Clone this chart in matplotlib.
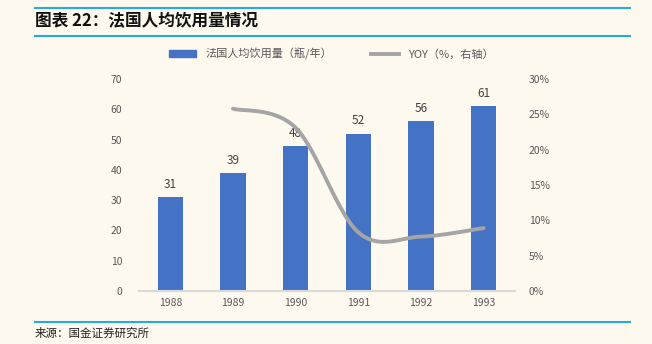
import matplotlib
matplotlib.use("Agg")
import matplotlib.pyplot as plt
import numpy as np
from matplotlib.lines import Line2D
from matplotlib.patches import Patch

plt.rcParams['font.family'] = ['Noto Sans CJK SC', 'DejaVu Sans']

years = ['1988', '1989', '1990', '1991', '1992', '1993']
consumption = [31, 39, 48, 52, 56, 61]
yoy_years_idx = [1, 2, 3, 4, 5]
yoy = [25.8, 23.1, 8.3, 7.7, 8.9]

title = '图表 22：法国人均饮用量情况'
source = '来源：国金证券研究所'
bar_label = '法国人均饮用量（瓶/年）'
line_label = 'YOY（%，右轴）'

bg = '#FDF9EF'
fig = plt.figure(figsize=(6.52, 3.44), dpi=100, facecolor=bg)

# header/footer lines
for y in [1 - 8/344, 1 - 36/344, 1 - 322/344]:
    fig.add_artist(Line2D([35/652, 630/652], [y, y], color='#27A9E1', lw=1.5))
fig.text(35/652, 1 - 21/344, title, fontsize=12, fontweight='bold', style='italic',
         va='center', ha='left', color='#111111')
fig.text(35/652, 1 - 333/344, source, fontsize=8.3, va='center', ha='left', color='#222222')

ax = fig.add_axes([139/652, 1 - 291/344, 376/652, 212/344])
ax.set_facecolor(bg)
x = np.arange(len(years))
bars = ax.bar(x, consumption, width=0.4, color='#4472C4', zorder=2)
for xi, v in zip(x, consumption):
    ax.text(xi, v + 2, str(v), ha='center', va='bottom', fontsize=8.5, color='#404040', zorder=5)
ax.set_xlim(-0.5, 5.5)
ax.set_ylim(0, 70)
ax.set_yticks(range(0, 71, 10))
ax.set_xticks(x)
ax.set_xticklabels(years)
for s in ['top', 'right', 'left']:
    ax.spines[s].set_visible(False)
ax.spines['bottom'].set_color('#D9D9D9')
ax.spines['bottom'].set_linewidth(1.5)
ax.tick_params(axis='both', length=0, labelsize=7.5, colors='#595959')
ax.tick_params(axis='y', pad=12)
ax.tick_params(axis='x', pad=5)

ax2 = ax.twinx()
ax2.set_ylim(0, 30)
ax2.set_yticks(range(0, 31, 5))
ax2.set_yticklabels([f'{v}%' for v in range(0, 31, 5)])
for s in ['top', 'right', 'left', 'bottom']:
    ax2.spines[s].set_visible(False)
ax2.tick_params(axis='y', length=0, labelsize=7.5, colors='#595959', pad=10)

# smoothed line (Catmull-Rom through the data points)
px = np.array(yoy_years_idx, dtype=float)
py = np.array(yoy, dtype=float)
P = np.column_stack([px, py])
Pext = np.vstack([P[0], P, P[-1]])
xs, ys = [], []
for i in range(1, len(Pext) - 2):
    p0, p1, p2, p3 = Pext[i-1], Pext[i], Pext[i+1], Pext[i+2]
    t = np.linspace(0, 1, 30)[:, None]
    c = 0.5 * ((2*p1) + (-p0 + p2)*t + (2*p0 - 5*p1 + 4*p2 - p3)*t**2 + (-p0 + 3*p1 - 3*p2 + p3)*t**3)
    xs.extend(c[:, 0]); ys.extend(c[:, 1])
ax2.plot(xs, ys, color='#A5A5A5', lw=2.8, solid_capstyle='round', zorder=3)

handles = [Patch(color='#4472C4'), Line2D([0], [0], color='#A5A5A5', lw=2.8)]
fig.legend(handles, [bar_label, line_label], loc='center', bbox_to_anchor=(331/652, 1 - 54/344),
           ncol=2, frameon=False, fontsize=8, labelcolor='#595959', handlelength=2.5,
           handleheight=0.5, columnspacing=3.5)

fig.savefig('out.png', dpi=100, facecolor=bg)
